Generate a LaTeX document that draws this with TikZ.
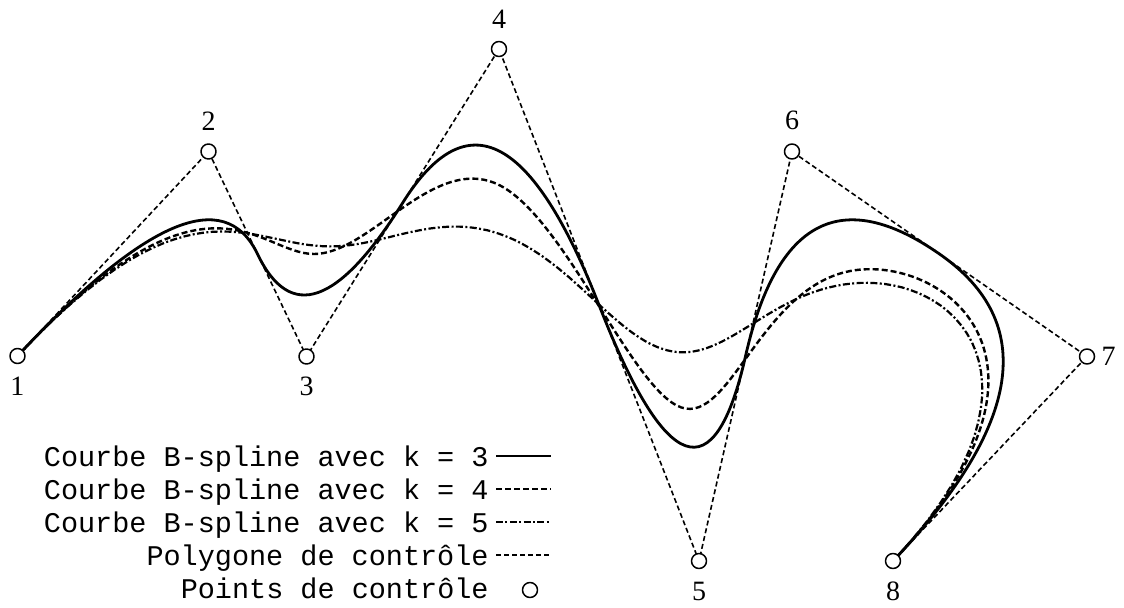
\documentclass[tikz,border=0pt]{standalone}
\usepackage{fontspec}
\setmainfont{Liberation Serif}
\setmonofont{Liberation Mono}
\usetikzlibrary{calc}

\tikzset{
  ctrlpt/.style={circle, draw, fill=white, line width=0.75pt, minimum size=7.5pt, inner sep=0pt},
  ptlabel/.style={inner sep=0pt, font=\fontsize{14}{16}\selectfont},
  polyline/.style={line width=0.8pt, dash pattern=on 2.5pt off 1.5pt},
  splineA/.style={line width=1.4pt},
  splineB/.style={line width=1.2pt, dash pattern=on 3pt off 1.5pt},
  splineC/.style={line width=1.1pt, dash pattern=on 3.5pt off 1.2pt on 1pt off 1.2pt},
  legtext/.style={anchor=base east, inner sep=0pt, font=\ttfamily\fontsize{14.25}{16}\selectfont}
}

\begin{document}
\begin{tikzpicture}[x=0.5pt, y=0.5pt, line join=round]
  \useasboundingbox (0,0) rectangle (1124,607);

  % --- Control points ---
  \coordinate (p1) at (17.5,251);
  \coordinate (p2) at (208.5,455.5);
  \coordinate (p3) at (306.5,250.5);
  \coordinate (p4) at (499,558);
  \coordinate (p5) at (699,46);
  \coordinate (p6) at (792,455.5);
  \coordinate (p7) at (1087,250.5);
  \coordinate (p8) at (893,46);

  % --- Bezier points of the pieces (blossoms, clamped uniform knots) ---
  \coordinate (m23) at ($(p2)!.5!(p3)$);
  \coordinate (m34) at ($(p3)!.5!(p4)$);
  \coordinate (m45) at ($(p4)!.5!(p5)$);
  \coordinate (m56) at ($(p5)!.5!(p6)$);
  \coordinate (m67) at ($(p6)!.5!(p7)$);
  \coordinate (c112) at ($(p3)!1/3!(p4)$);
  \coordinate (c122) at ($(p3)!2/3!(p4)$);
  \coordinate (c223) at ($(p4)!1/3!(p5)$);
  \coordinate (c233) at ($(p4)!2/3!(p5)$);
  \coordinate (c334) at ($(p5)!1/3!(p6)$);
  \coordinate (c344) at ($(p5)!2/3!(p6)$);
  \coordinate (c111) at ($(m23)!.5!(c112)$);
  \coordinate (c222) at ($(c122)!.5!(c223)$);
  \coordinate (c333) at ($(c233)!.5!(c334)$);
  \coordinate (c444) at ($(c344)!.5!(m67)$);
  \coordinate (q1123) at ($(p4)!1/4!(p5)$);
  \coordinate (q1233) at ($(p4)!3/4!(p5)$);
  \coordinate (q1112) at ($(c112)!1/3!(q1123)$);
  \coordinate (q1122) at ($(c112)!2/3!(q1123)$);
  \coordinate (q1111) at ($(c111)!.5!(q1112)$);
  \coordinate (q1222) at ($(c122)!2/3!(m45)$);
  \coordinate (q2223) at ($(m45)!1/3!(c334)$);
  \coordinate (q2222) at ($(q1222)!.5!(q2223)$);
  \coordinate (q2233) at ($(q1233)!1/3!(c344)$);
  \coordinate (q2333) at ($(q1233)!2/3!(c344)$);
  \coordinate (q3333) at ($(q2333)!.5!(c444)$);

  % --- Control polygon ---
  \draw[polyline] (p1) -- (p2) -- (p3) -- (p4) -- (p5) -- (p6) -- (p7) -- (p8);

  % --- k=3: quadratic pieces ---
  \draw[splineA] (p1) \foreach \a/\b/\c in {p1/p2/m23, m23/p3/m34, m34/p4/m45, m45/p5/m56, m56/p6/m67, m67/p7/p8}
    { .. controls ($(\a)!2/3!(\b)$) and ($(\c)!2/3!(\b)$) .. (\c) };

  % --- k=4: cubic pieces ---
  \draw[splineB] (p1) .. controls (p2) and (m23) .. (c111)
    .. controls (c112) and (c122) .. (c222)
    .. controls (c223) and (c233) .. (c333)
    .. controls (c334) and (c344) .. (c444)
    .. controls (m67) and (p7) .. (p8);

  % --- k=5: quartic pieces ---
  \draw[splineC] (p1) \foreach \a/\b/\c/\d/\e in {p1/p2/m23/c111/q1111, q1111/q1112/q1122/q1222/q2222,
      q2222/q2223/q2233/q2333/q3333, q3333/c444/m67/p7/p8} {
    \foreach \i [evaluate=\i as \t using \i/40] in {1,...,40} {
      -- ($ {(1-\t)^4}*(\a) + {4*\t*(1-\t)^3}*(\b) + {6*\t^2*(1-\t)^2}*(\c) + {4*\t^3*(1-\t)}*(\d) + {\t^4}*(\e) $)
    }
  };

  % --- Points ---
  \foreach \i/\pos/\d in {1/below/6pt, 2/above/6pt, 3/below/6pt, 4/above/6pt,
      5/below/6.5pt, 6/above/6.5pt, 7/right/3pt, 8/below/6pt}
    \node[ctrlpt, label={[ptlabel, label distance=\d]\pos:\i}] (pt\i) at (p\i) {};

  % --- Legend ---
  \node[legtext] (lgA) at (489,141) {Courbe B-spline avec k = 3};
  \node[legtext] (lgB) at (489,108) {Courbe B-spline avec k = 4};
  \node[legtext] (lgC) at (489,75) {Courbe B-spline avec k = 5};
  \node[legtext] (lgP) at (489,42) {Polygone de contrôle};
  \node[legtext] (lgQ) at (489,9) {Points de contrôle};
  \draw[splineA] ($(lgA.base east)+(7,10)$) -- ++(55,0);
  \draw[splineB] ($(lgB.base east)+(7,10)$) -- ++(55,0);
  \draw[splineC] ($(lgC.base east)+(7,10)$) -- ++(55,0);
  \draw[polyline] ($(lgP.base east)+(7,10)$) -- ++(55,0);
  \node[ctrlpt] (lgpt) at ($(lgQ.base east)+(41,8)$) {};
\end{tikzpicture}
\end{document}
